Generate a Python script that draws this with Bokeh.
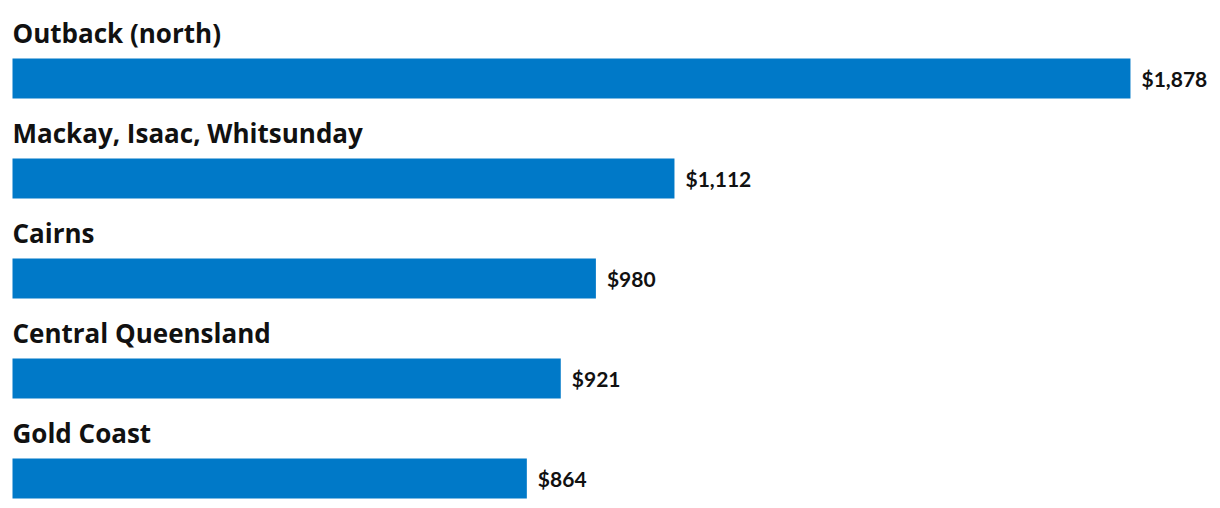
from bokeh.plotting import figure
from bokeh.models import Range1d, ColumnDataSource
from bokeh.core.properties import value
from bokeh.embed import file_html
from bokeh.resources import INLINE

regions = ["Outback (north)", "Mackay, Isaac, Whitsunday", "Cairns", "Central Queensland", "Gold Coast"]
amounts = [1878, 1112, 980, 921, 864]
amount_labels = ["$1,878", "$1,112", "$980", "$921", "$864"]

BAR_COLOR = "#0079C8"
TEXT_COLOR = "#111111"

pos = list(range(len(regions)))
src = ColumnDataSource(dict(
    region=regions, amount=amounts, label=amount_labels, pos=pos,
    title_pos=[p - 0.46 for p in pos], zero=[0] * len(pos),
))

p = figure(width=1212, height=500, output_backend="svg", toolbar_location=None,
           x_range=Range1d(-20.16, 2015.8), y_range=Range1d(4.22, -0.78),
           min_border=0, outline_line_color=None, background_fill_color="white")
p.axis.visible = False
p.grid.visible = False

p.hbar(y="pos", left=0, right="amount", height=0.4, color=BAR_COLOR, line_color=None, source=src)
p.text(x="zero", y="title_pos", text="region", source=src,
       text_font=value("Open Sans"), text_font_style="bold", text_font_size="26px",
       text_color=TEXT_COLOR, text_baseline="middle", text_align="left")
p.text(x="amount", y="pos", text="label", source=src, x_offset=11,
       text_font=value("Lato"), text_font_style="bold", text_font_size="21px",
       text_color=TEXT_COLOR, text_baseline="middle", text_align="left")

open("out.html", "w").write(file_html(p, INLINE))
